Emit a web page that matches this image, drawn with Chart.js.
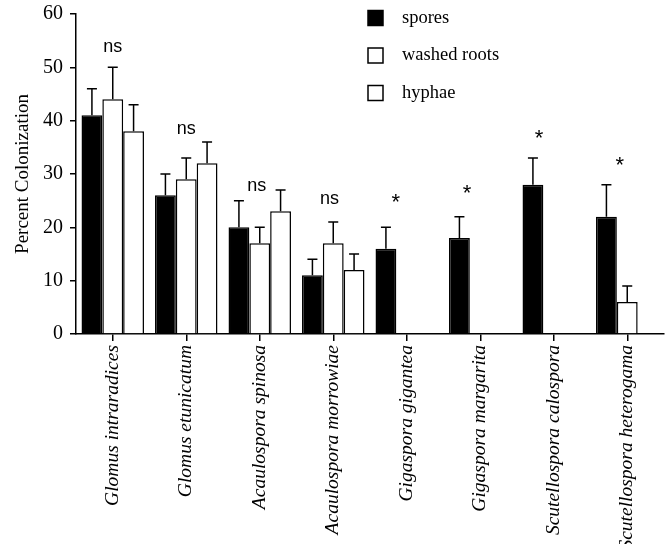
<!DOCTYPE html>
<html>
<head>
    <script src="https://cdn.jsdelivr.net/npm/chart.js@4.4.0/dist/chart.umd.min.js"></script>
    <style>
        body { margin: 0; background: #fff; }
        #wrap { width: 667px; height: 544px; }
    </style>
</head>
<body>
    <div id="wrap"><canvas id="chart"></canvas></div>
    <script>
        const species = ["Glomus intraradices", "Glomus etunicatum", "Acaulospora spinosa", "Acaulospora morrowiae",
            "Gigaspora gigantea", "Gigaspora margarita", "Scutellospora calospora", "Scutellospora heterogama"];
        const spores = [41, 26, 20, 11, 16, 18, 28, 22];
        const sporesErr = [5, 4, 5, 3, 4, 4, 5, 6];
        const washedRoots = [44, 29, 17, 17, null, null, null, 6];
        const washedRootsErr = [6, 4, 3, 4, null, null, null, 3];
        const hyphae = [38, 32, 23, 12, null, null, null, null];
        const hyphaeErr = [5, 4, 4, 3, null, null, null, null];
        const yTicks = [0, 10, 20, 30, 40, 50, 60];

        // significance marks: text, y value, shift from category centre (in categories)
        const marks = ["ns", "ns", "ns", "ns", "*", "*", "*", "*"];
        const markY = [53.8, 38.5, 27.8, 25.3, 25.3, 27, 37.3, 32.3];
        const markShift = [0, 0, -0.04, -0.05, -0.15, -0.18, -0.2, -0.1];

        const serif = "'Liberation Serif', 'Times New Roman', serif";
        const sans = "'Liberation Sans', Arial, sans-serif";

        const errorBars = {
            id: 'errorBars',
            afterDatasetsDraw(chart) {
                const ctx = chart.ctx;
                const y = chart.scales.y;
                ctx.save();
                ctx.strokeStyle = '#000';
                ctx.lineWidth = 1.5;
                chart.data.datasets.forEach((ds, di) => {
                    const meta = chart.getDatasetMeta(di);
                    meta.data.forEach((bar, i) => {
                        const v = ds.data[i], e = ds.errors[i];
                        if (v == null || e == null) return;
                        const top = y.getPixelForValue(v + e);
                        ctx.beginPath();
                        ctx.moveTo(bar.x, bar.y);
                        ctx.lineTo(bar.x, top);
                        ctx.moveTo(bar.x - 5, top);
                        ctx.lineTo(bar.x + 5, top);
                        ctx.stroke();
                    });
                });

                // ns / * labels
                const x = chart.scales.x;
                ctx.fillStyle = '#000';
                ctx.textAlign = 'center';
                ctx.textBaseline = 'middle';
                marks.forEach((m, i) => {
                    const px = x.getPixelForValue(i) + markShift[i] * (x.getPixelForValue(1) - x.getPixelForValue(0));
                    const py = y.getPixelForValue(markY[i]);
                    if (m === '*') {
                        ctx.font = '22px ' + sans;
                        ctx.fillText(m, px, py + 4);
                    } else {
                        ctx.font = '18px ' + sans;
                        ctx.fillText(m, px, py);
                    }
                });

                // legend
                ctx.font = '18.5px ' + serif;
                ctx.textAlign = 'left';
                chart.data.datasets.forEach((ds, di) => {
                    const ly = 18 + di * 37.5;
                    ctx.fillStyle = ds.backgroundColor;
                    ctx.fillRect(368, ly - 7.5, 15, 15);
                    ctx.strokeRect(368, ly - 7.5, 15, 15);
                    ctx.fillStyle = '#000';
                    ctx.fillText(ds.label, 402, ly);
                });
                ctx.restore();
            }
        };

        new Chart(document.getElementById('chart'), {
            type: 'bar',
            data: {
                labels: species,
                datasets: [
                    { label: 'spores', data: spores, errors: sporesErr, backgroundColor: '#000', borderColor: '#000', borderWidth: 1.5 },
                    { label: 'washed roots', data: washedRoots, errors: washedRootsErr, backgroundColor: '#fff', borderColor: '#000', borderWidth: 1.5 },
                    { label: 'hyphae', data: hyphae, errors: hyphaeErr, backgroundColor: '#fff', borderColor: '#000', borderWidth: 1.5 }
                ]
            },
            options: {
                responsive: true,
                maintainAspectRatio: false,
                animation: false,
                layout: { padding: { top: 14, right: 3, left: 0, bottom: 0 } },
                datasets: { bar: { categoryPercentage: 0.85, barPercentage: 1.0, borderSkipped: 'bottom' } },
                plugins: { legend: { display: false }, tooltip: { enabled: false } },
                scales: {
                    x: {
                        offset: true,
                        afterFit(s) { s.height = 210; },
                        grid: { display: true, drawOnChartArea: false, tickLength: 7, color: '#000', lineWidth: 1.5, offset: false },
                        border: { color: '#000', width: 1.5 },
                        ticks: {
                            color: '#000', minRotation: 90, maxRotation: 90, autoSkip: false, padding: 4,
                            font: { family: serif, size: 19.5, style: 'italic' }
                        }
                    },
                    y: {
                        min: 0, max: 60,
                        afterBuildTicks(s) { s.ticks = yTicks.map(v => ({ value: v })); },
                        afterFit(s) { s.width = 76; s.paddingTop = 0; s.paddingBottom = 0; },
                        grid: { display: true, drawOnChartArea: false, tickLength: 6, color: '#000', lineWidth: 1.5 },
                        border: { color: '#000', width: 1.5 },
                        ticks: { color: '#000', padding: 7, font: { family: serif, size: 20, lineHeight: 1 } },
                        title: { display: true, text: 'Percent Colonization', color: '#000', padding: { top: 12, bottom: 0 }, font: { family: serif, size: 19 } }
                    }
                }
            },
            plugins: [errorBars]
        });
    </script>
</body>
</html>
